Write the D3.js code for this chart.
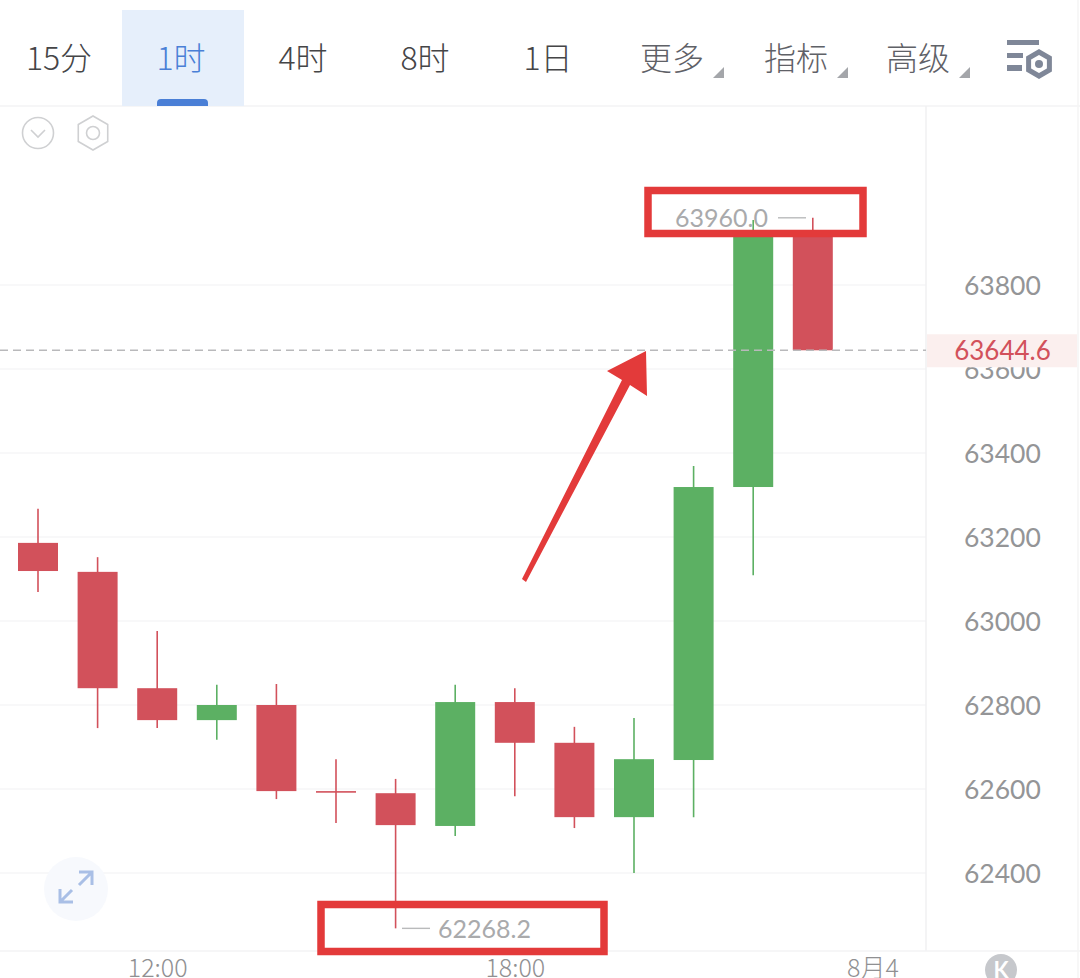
<!DOCTYPE html>
<html><head><meta charset="utf-8">
<script src="https://cdn.jsdelivr.net/npm/d3@7/dist/d3.min.js"></script>
<style>html,body{margin:0;padding:0;background:#fff;overflow:hidden}svg{display:block}
text{font-family:"Noto Sans CJK SC","Noto Sans",sans-serif}
.num text,text.num{font-family:Lato,"Noto Sans",sans-serif}</style></head><body>
<svg id="c" width="1080" height="978"></svg>
<script>
// Data
const hours  = [10,11,12,13,14,15,16,17,18,19,20,21,22,23];
const opens  = [63186,63117,62840,62764,62800,62595,62590,62512,62807,62710,62533,62669,63319,63915];
const highs  = [63267,63152,62976,62848,62850,62671,62624,62848,62840,62748,62769,63369,63955,63960];
const lows   = [63069,62745,62745,62717,62576,62519,62268.2,62488,62583,62507,62400,62533,63109,63644.6];
const closes = [63119,62840,62764,62800,62595,62593,62514,62807,62710,62533,62671,63319,63915,63644.6];
const priceTicks = [62400,62600,62800,63000,63200,63400,63600,63800];
const timeTicks  = [12,18,24];
const timeLabels = ["12:00","18:00","8月4"];
const tabs  = ["15分","1时","4时","8时","1日"];
const menus = ["更多","指标","高级"];
const lastPrice = 63644.6, maxPrice = 63960.0, minPrice = 62268.2;

const UP="#5cb063", DOWN="#d2515b", BOX="#e33a3a";
const svg=d3.select("#c");
const x=d3.scaleLinear().domain([10,23]).range([38,812.8]);
const y=d3.scaleLinear().domain([62400,63800]).range([873,285]);
const bw=40, axisX=926, axisY=951;

const line=(x1,y1,x2,y2,c,w=1.5)=>svg.append("line").attr("x1",x1).attr("y1",y1).attr("x2",x2).attr("y2",y2).attr("stroke",c).attr("stroke-width",w);

// grid
svg.append("g").selectAll("line").data(priceTicks).join("line")
  .attr("x1",0).attr("x2",axisX).attr("y1",d=>y(d)).attr("y2",d=>y(d))
  .attr("stroke","#f6f6f7").attr("stroke-width",1.5);

line(0,106,1080,106,"#f3f3f4");
line(axisX,106,axisX,951,"#f1f1f2");
line(0,951,1080,951,"#f3f3f4");
line(1078,0,1078,978,"#f4f4f5");

// top tabs
svg.append("rect").attr("x",122).attr("y",10).attr("width",122).attr("height",96).attr("fill","#e6effb");
svg.append("path").attr("d","M157 106v-3q0-4 4-4h43q4 0 4 4v3z").attr("fill","#4a7fd6");
const tabX=[59,181,303,425,548];
svg.append("g").selectAll("text").data(tabs).join("text")
  .attr("x",(d,i)=>tabX[i]).attr("y",70).attr("text-anchor","middle").attr("font-size",32)
  .attr("font-weight",300)
  .attr("fill",(d,i)=>i===1?"#4a7fd6":"#454547").text(d=>d);
const menuX=[672,796,918];
svg.append("g").selectAll("text").data(menus).join("text")
  .attr("x",(d,i)=>menuX[i]).attr("y",70).attr("text-anchor","middle").attr("font-size",32)
  .attr("font-weight",300)
  .attr("fill","#5f6167").text(d=>d);
svg.append("g").selectAll("path").data(menus).join("path")
  .attr("d",(d,i)=>`M${menuX[i]+41} 78h11v-11z`).attr("fill","#a4a6aa");

// settings icon
const ic=svg.append("g").attr("fill","#7f8798");
ic.append("rect").attr("x",1007).attr("y",40).attr("width",32).attr("height",5);
ic.append("rect").attr("x",1007).attr("y",53).attr("width",16).attr("height",5);
ic.append("rect").attr("x",1007).attr("y",65).attr("width",15).attr("height",6);
const hex=(cx,cy,r)=>d3.range(6).map(i=>{const a=Math.PI/3*i-Math.PI/2;return [cx+r*Math.cos(a),cy+r*Math.sin(a)].join(",")}).join(" ");
svg.append("polygon").attr("points",hex(1039,64,12)).attr("fill","none").attr("stroke","#7f8798").attr("stroke-width",5);
svg.append("circle").attr("cx",1039).attr("cy",64).attr("r",4).attr("fill","#7f8798");

// small icons
svg.append("circle").attr("cx",38).attr("cy",133).attr("r",15.5).attr("fill","none").attr("stroke","#cfd0d2").attr("stroke-width",1.6);
svg.append("path").attr("d","M31 130l7 7 7-7").attr("fill","none").attr("stroke","#cfd0d2").attr("stroke-width",1.6);
svg.append("polygon").attr("points",hex(93,133,17)).attr("fill","none").attr("stroke","#cfd0d2").attr("stroke-width",1.6);
svg.append("circle").attr("cx",93).attr("cy",133).attr("r",6.5).attr("fill","none").attr("stroke","#cfd0d2").attr("stroke-width",1.6);

// expand button
svg.append("circle").attr("cx",76).attr("cy",889).attr("r",32).attr("fill","#f7f9fd");
svg.append("path").attr("d","M79 872h13v13M92 872l-13 13M60 889v13h13M60 902l12-12").attr("fill","none").attr("stroke","#a9bfe6").attr("stroke-width",3);

// candles
const idx=d3.range(hours.length);
const color=i=>closes[i]>=opens[i]?UP:DOWN;
const g=svg.append("g");
g.selectAll("line.w").data(idx).join("line").attr("class","w")
  .attr("x1",i=>x(hours[i])).attr("x2",i=>x(hours[i]))
  .attr("y1",i=>y(highs[i])).attr("y2",i=>y(lows[i]))
  .attr("stroke",color).attr("stroke-width",1.6);
g.selectAll("rect").data(idx).join("rect")
  .attr("x",i=>x(hours[i])-bw/2).attr("width",bw)
  .attr("y",i=>y(Math.max(opens[i],closes[i])))
  .attr("height",i=>Math.max(1.6,Math.abs(y(opens[i])-y(closes[i]))))
  .attr("fill",color);

// last price line
svg.append("line").attr("x1",0).attr("x2",axisX).attr("y1",y(lastPrice)).attr("y2",y(lastPrice))
  .attr("stroke","#b9b9bb").attr("stroke-width",1.6).attr("stroke-dasharray","8 5");

// axes
const ya=svg.append("g").attr("class","num").attr("transform",`translate(${axisX},1)`)
  .call(d3.axisRight(y).tickValues(priceTicks).tickSize(0).tickPadding(38).tickFormat(d3.format("d")));
ya.select(".domain").remove();
ya.selectAll("text").attr("font-size",26.5).attr("fill","#949597");
const xa=svg.append("g").attr("transform",`translate(0,${axisY})`)
  .call(d3.axisBottom(x).tickValues(timeTicks).tickSize(0).tickPadding(8).tickFormat((d,i)=>timeLabels[i]));
xa.select(".domain").remove();
xa.selectAll("text").attr("font-size",25).attr("font-weight",300).attr("fill","#909092");

// last price tag
svg.append("rect").attr("x",927).attr("y",y(lastPrice)-16).attr("width",150).attr("height",33).attr("fill","#fbefee");
svg.append("text").attr("class","num").attr("x",1002.5).attr("y",y(lastPrice)+10).attr("text-anchor","middle")
  .attr("font-size",26).attr("fill","#d2515b").text(lastPrice.toFixed(1));

// high / low labels
svg.append("text").attr("class","num").attr("x",675).attr("y",y(maxPrice)+9).attr("font-size",25).attr("fill","#a9aaac").text(maxPrice.toFixed(1));
line(778,y(maxPrice),806,y(maxPrice),"#b9babb",1.4);
svg.append("text").attr("class","num").attr("x",438).attr("y",y(minPrice)+10).attr("font-size",25).attr("fill","#a9aaac").text(minPrice.toFixed(1));
line(402,y(minPrice),430,y(minPrice),"#b9babb",1.4);

// annotation boxes and arrow
svg.append("rect").attr("x",648).attr("y",190.5).attr("width",215).attr("height",43).attr("fill","none").attr("stroke",BOX).attr("stroke-width",7.5);
svg.append("rect").attr("x",321).attr("y",904.5).attr("width",283).attr("height",47).attr("fill","none").attr("stroke",BOX).attr("stroke-width",7.5);
svg.append("polygon").attr("points","522,579 526,582 630,385 647,396 646,351 607,371 622,380").attr("fill",BOX);

// K badge
svg.append("circle").attr("cx",1001).attr("cy",970).attr("r",16).attr("fill","#c6c8cc");
svg.append("text").attr("class","num").attr("x",1001).attr("y",978).attr("text-anchor","middle").attr("font-size",22).attr("font-weight",700).attr("fill","#fff").text("K");
</script></body></html>
